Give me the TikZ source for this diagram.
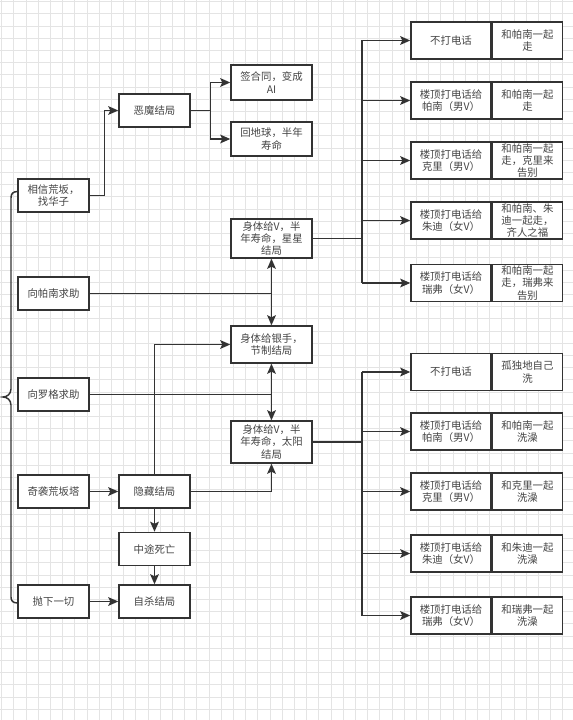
\documentclass[tikz,border=0pt]{standalone}
\usepackage{fontspec}
\newfontfamily\cjkfont{Noto Sans CJK SC}
\usetikzlibrary{arrows.meta}

\definecolor{linec}{RGB}{51,51,51}
\definecolor{txtc}{RGB}{68,68,68}
\definecolor{gridc}{RGB}{228,228,228}

\tikzset{every picture/.style={line width=0.75pt},
	box/.style={draw=linec, line width=1.1pt, fill=white, inner sep=1pt, align=center, text=txtc, font=\cjkfont\fontsize{7.8}{9.2}\selectfont},
	sbox/.style={box, minimum width=53.25pt, minimum height=24.75pt},
	mbox/.style={box, minimum width=60.75pt},
	lbox/.style={box, minimum width=60pt, minimum height=27.75pt},
	rbox/.style={box, minimum width=52.5pt, minimum height=27.75pt, anchor=west},
	line/.style={draw=linec, line width=1.1pt},
	arr/.style={line, -{Stealth[length=7.5pt,width=6.5pt,inset=1.5pt]}},
	gridline/.style={draw=gridc, line width=0.4pt}}

\begin{document}
\begin{tikzpicture}[x=0.75pt,y=0.75pt,yscale=-1,xscale=1]
				\useasboundingbox (0,0) rectangle (573,720);
				
				%Background grid
				\fill[white] (0,0) rectangle (573,720);
				\begin{scope}[shift={(1.5,1.5)}]
				\clip (-1.5,-1.5) rectangle (571.5,718.5);
				\draw[gridline] (-12.2,-12.2) grid[step=12.2] (585,732);
				\end{scope}
				
				%Left column
				\node[sbox] (hx) at (53.5,195.5) {相信荒坂，\\找华子};
				\node[sbox] (pn) at (53.5,293.5) {向帕南求助};
				\node[sbox] (lg) at (53.5,394.5) {向罗格求助};
				\node[sbox] (qx) at (53.5,491.5) {奇袭荒坂塔};
				\node[sbox] (px) at (53.5,601.5) {抛下一切};
				
				%Second column
				\node[sbox] (em) at (154.5,110.5) {恶魔结局};
				\node[sbox] (yc) at (154.5,491.5) {隐藏结局};
				\node[sbox] (zt) at (154.5,549) {中途死亡};
				\node[sbox] (zs) at (154.5,601.5) {自杀结局};
				
				%Third column
				\node[mbox, minimum height=26.25pt] (ai) at (271.5,82.5) {签合同，变成\\AI};
				\node[mbox, minimum height=25.5pt] (dq) at (271.5,139) {回地球，半年\\寿命};
				\node[mbox, minimum height=29.25pt] (xx) at (271.5,238.5) {身体给V，半\\年寿命，星星\\结局};
				\node[mbox, minimum height=27.75pt] (ys) at (271.5,344.5) {身体给银手，\\节制结局};
				\node[mbox, minimum height=31.5pt] (ty) at (271.5,442) {身体给V，半\\年寿命，太阳\\结局};
				
				%Star endings
				\node[lbox] (s1) at (451,40.5) {不打电话};
				\node[rbox] (t1) at (s1.east) {和帕南一起\\走};
				\node[lbox] (s2) at (451,100.5) {楼顶打电话给\\帕南（男V）};
				\node[rbox] (t2) at (s2.east) {和帕南一起\\走};
				\node[lbox] (s3) at (451,160.5) {楼顶打电话给\\克里（男V）};
				\node[rbox] (t3) at (s3.east) {和帕南一起\\走，克里来\\告别};
				\node[lbox] (s4) at (451,220.5) {楼顶打电话给\\朱迪（女V）};
				\node[rbox] (t4) at (s4.east) {和帕南、朱\\迪一起走，\\齐人之福};
				\node[lbox] (s5) at (451,283) {楼顶打电话给\\瑞弗（女V）};
				\node[rbox] (t5) at (s5.east) {和帕南一起\\走，瑞弗来\\告别};
				
				%Sun endings
				\node[lbox] (u1) at (451,372) {不打电话};
				\node[rbox] (v1) at (u1.east) {孤独地自己\\洗};
				\node[lbox] (u2) at (451,431.5) {楼顶打电话给\\帕南（男V）};
				\node[rbox] (v2) at (u2.east) {和帕南一起\\洗澡};
				\node[lbox] (u3) at (451,491.5) {楼顶打电话给\\克里（男V）};
				\node[rbox] (v3) at (u3.east) {和克里一起\\洗澡};
				\node[lbox] (u4) at (451,553.5) {楼顶打电话给\\朱迪（女V）};
				\node[rbox] (v4) at (u4.east) {和朱迪一起\\洗澡};
				\node[lbox] (u5) at (451,615.5) {楼顶打电话给\\瑞弗（女V）};
				\node[rbox] (v5) at (u5.east) {和瑞弗一起\\洗澡};
				
				%Left brace
				\draw[line] (18,191.5) .. controls (13,191.5) and (11,193.5) .. (11,198) -- (11,389) .. controls (11,394) and (7,397) .. (3,397) .. controls (7,397) and (11,400) .. (11,405) -- (11,597) .. controls (11,601) and (13,603) .. (18,603);
				
				%Devil ending
				\draw[arr] (hx.east) -- ++(15,0) |- (em.west);
				\draw[line] (em.east) -- ++(20,0) coordinate (ej);
				\draw[arr] (ej) |- (ai.west);
				\draw[arr] (ej) |- (dq.west);
				
				%Panam and Rogue
				\coordinate (j1) at (xx.south |- pn.east);
				\draw[line] (pn.east) -- (j1);
				\draw[arr] (j1) -- (xx.south);
				\draw[arr] (j1) -- (ys.north);
				\coordinate (j2) at (ys.south |- lg.east);
				\draw[line] (lg.east) -- (j2);
				\draw[arr] (j2) -- (ys.south);
				\draw[arr] (j2) -- (ty.north);
				
				%Secret ending
				\draw[arr] (qx.east) -- (yc.west);
				\draw[arr] (yc.north) |- (ys.west);
				\draw[arr] (yc.east) -| (ty.south);
				\draw[arr] (yc.south) -- (zt.north);
				\draw[arr] (zt.south) -- (zs.north);
				\draw[arr] (px.east) -- (zs.west);
				
				%Star bus
				\coordinate (bt) at (362,238.5);
				\draw[line] (xx.east) -- (bt);
				\draw[line] (bt |- s1.west) -- (bt |- s5.west);
				\draw[arr] (bt |- s1.west) -- (s1.west);
				\draw[arr] (bt |- s2.west) -- (s2.west);
				\draw[arr] (bt |- s3.west) -- (s3.west);
				\draw[arr] (bt |- s4.west) -- (s4.west);
				\draw[arr] (bt |- s5.west) -- (s5.west);
				
				%Sun bus
				\coordinate (bs) at (362,442);
				\draw[line] (ty.east) -- (bs);
				\draw[line] (bs |- u1.west) -- (bs |- u5.west);
				\draw[arr] (bs |- u1.west) -- (u1.west);
				\draw[arr] (bs |- u2.west) -- (u2.west);
				\draw[arr] (bs |- u3.west) -- (u3.west);
				\draw[arr] (bs |- u4.west) -- (u4.west);
				\draw[arr] (bs |- u5.west) -- (u5.west);
				
\end{tikzpicture}
\end{document}
